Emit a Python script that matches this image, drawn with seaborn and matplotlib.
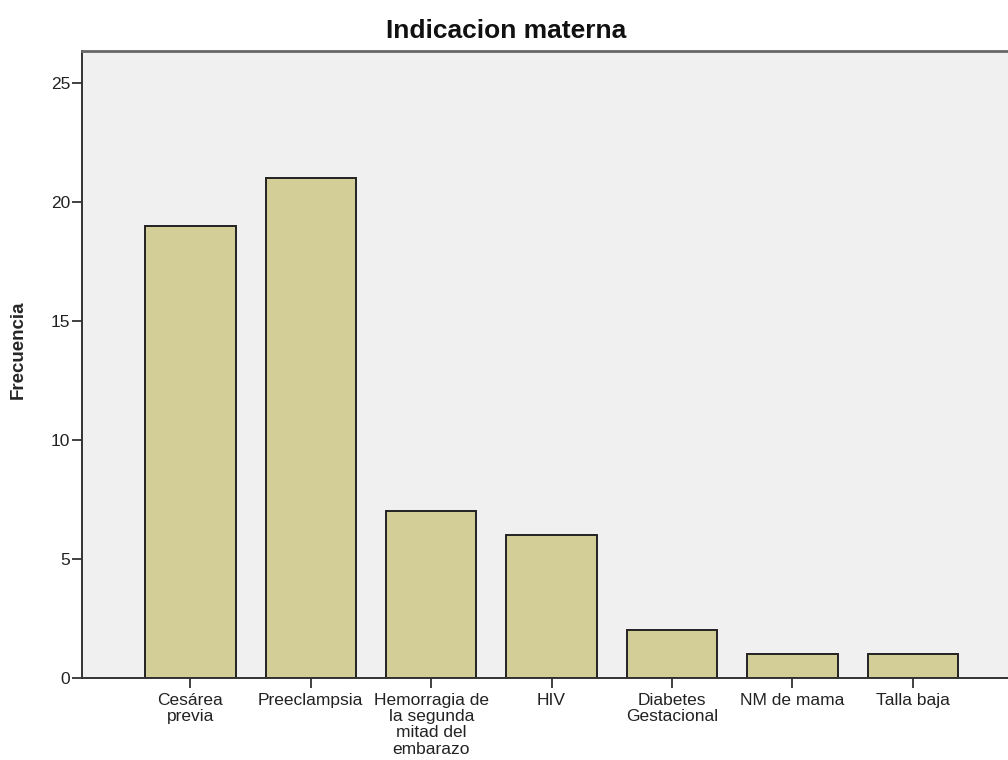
import matplotlib
matplotlib.use("Agg")
import matplotlib.pyplot as plt
import seaborn as sns
import pandas as pd

categories = [
    "Cesárea\nprevia",
    "Preeclampsia",
    "Hemorragia de\nla segunda\nmitad del\nembarazo",
    "HIV",
    "Diabetes\nGestacional",
    "NM de mama",
    "Talla baja",
]
frecuencias = [19, 21, 7, 6, 2, 1, 1]
y_ticks = [0, 5, 10, 15, 20, 25]

sns.set_theme(style="white")
plt.rcParams["font.family"] = ["Liberation Sans", "DejaVu Sans"]

df = pd.DataFrame({"indicacion": categories, "frecuencia": frecuencias})

fig = plt.figure(figsize=(10.08, 7.6), dpi=100)
ax = fig.add_axes([82 / 1008, 1 - 678 / 760, 1 - 82 / 1008, (678 - 51) / 760])
ax.set_facecolor("#F0F0F0")

sns.barplot(
    data=df, x="indicacion", y="frecuencia", ax=ax,
    color="#D3CE97", saturation=1, width=0.75,
    edgecolor="#222222", linewidth=1.4,
)

ax.set_xlim(-0.9, 6.79)
ax.set_ylim(0, 26.35)
ax.set_yticks(y_ticks)
ax.set_yticklabels([str(t) for t in y_ticks])

for side in ["left", "bottom", "top"]:
    ax.spines[side].set_visible(True)
    ax.spines[side].set_color("#333333")
    ax.spines[side].set_linewidth(1.4)
ax.spines["top"].set_color("#666666")
ax.spines["top"].set_linewidth(2.0)
ax.spines["right"].set_visible(False)

ax.tick_params(axis="y", direction="out", length=7, width=1.3, color="#333333",
               pad=1.5, labelsize=12.5, labelcolor="#222222", left=True)
ax.tick_params(axis="x", direction="out", length=7, width=1.3, color="#333333",
               pad=3.5, labelsize=12.5, labelcolor="#222222", bottom=True)
for lbl in ax.get_xticklabels():
    lbl.set_linespacing(1.12)

ax.set_xlabel("")
ax.set_ylabel("Frecuencia", fontsize=13.5, fontweight="bold")
ax.yaxis.set_label_coords((27 - 82) / (1008 - 82), (678 - 350) / (678 - 51))

fig.text(506 / 1008, 1 - 31 / 760, "Indicacion materna", ha="center", va="center",
         fontsize=19, fontweight="bold", color="#111111")

fig.savefig("out.png", dpi=100, facecolor="white")
